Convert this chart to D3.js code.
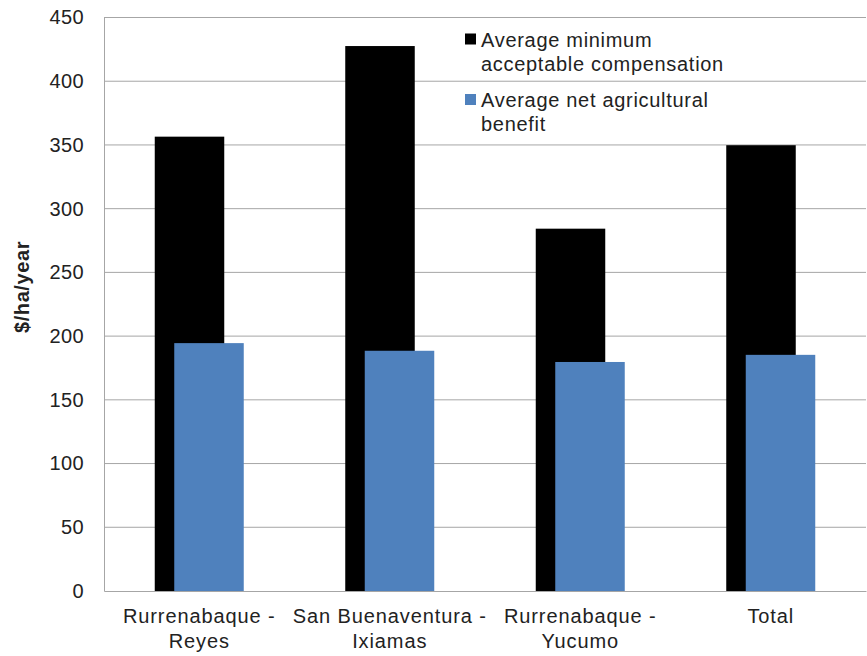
<!DOCTYPE html>
<html>
<head>
<meta charset="utf-8">
<script src="https://cdn.jsdelivr.net/npm/d3@7"></script>
<style>
  body { margin: 0; background: #fff; }
  text { font-family: "Liberation Sans", Arial, sans-serif; fill: #222; }
</style>
</head>
<body>
<div id="chart"></div>
<script>
var categories = [["Rurrenabaque -", "Reyes"], ["San Buenaventura -", "Ixiamas"], ["Rurrenabaque -", "Yucumo"], ["Total"]];
var minCompensation = [356.5, 427.6, 284.3, 349.8];
var netBenefit = [194.5, 188.5, 179.7, 185.3];
var yTicks = [0, 50, 100, 150, 200, 250, 300, 350, 400, 450];
var seriesNames = [["Average minimum", "acceptable compensation"], ["Average net agricultural", "benefit"]];
var seriesColors = ["#000000", "#4F81BD"];

var svgWidth = 867;
var svgHeight = 656;
var margin = { top: 17.5, right: 1, bottom: 65, left: 104 };
var width = svgWidth - margin.left - margin.right;
var height = svgHeight - margin.top - margin.bottom;

var svg = d3.select("#chart")
  .append("svg")
  .attr("width", svgWidth)
  .attr("height", svgHeight);

var chartGroup = svg.append("g")
  .attr("transform", `translate(${margin.left}, ${margin.top})`);

var xScale = d3.scaleBand()
  .domain(d3.range(categories.length))
  .range([0, width]);

var yScale = d3.scaleLinear()
  .domain([0, 450])
  .range([height, 0]);

// gridlines
chartGroup.append("g")
  .selectAll("line")
  .data(yTicks.slice(1))
  .enter()
  .append("line")
  .attr("x1", 0)
  .attr("x2", width)
  .attr("y1", d => yScale(d))
  .attr("y2", d => yScale(d))
  .attr("stroke", "#a6a6a6")
  .attr("stroke-width", 1);

// bars
var barWidth = 69.5;
var barShift = 19.5;
var clusterWidth = barWidth + barShift;

chartGroup.selectAll(".barMin")
  .data(minCompensation)
  .enter()
  .append("rect")
  .attr("x", (d, i) => xScale(i) + (xScale.bandwidth() - clusterWidth) / 2)
  .attr("y", d => yScale(d))
  .attr("width", barWidth)
  .attr("height", d => height - yScale(d))
  .attr("fill", seriesColors[0]);

chartGroup.selectAll(".barNet")
  .data(netBenefit)
  .enter()
  .append("rect")
  .attr("x", (d, i) => xScale(i) + (xScale.bandwidth() - clusterWidth) / 2 + barShift)
  .attr("y", d => yScale(d))
  .attr("width", barWidth)
  .attr("height", d => height - yScale(d))
  .attr("fill", seriesColors[1]);

// y axis
var leftAxis = d3.axisLeft(yScale).tickValues(yTicks).tickSize(0).tickPadding(20);
var yAxisG = chartGroup.append("g").call(leftAxis);
yAxisG.select(".domain").attr("stroke", "#a6a6a6");
yAxisG.selectAll("text")
  .style("font-size", "20px")
  .style("letter-spacing", "0.4px")
  .style("font-family", "Liberation Sans, Arial, sans-serif")
  .attr("fill", "#222");

// x axis
var xAxisG = chartGroup.append("g")
  .attr("transform", `translate(0, ${height})`)
  .call(d3.axisBottom(xScale).tickSize(0).tickFormat(""));
xAxisG.select(".domain").attr("stroke", "#a6a6a6");

var catLabels = chartGroup.append("g")
  .selectAll("text")
  .data(categories)
  .enter()
  .append("text")
  .attr("x", (d, i) => xScale(i) + xScale.bandwidth() / 2)
  .attr("y", height + 32)
  .attr("text-anchor", "middle")
  .style("font-size", "20px")
  .style("letter-spacing", "0.9px");

catLabels.selectAll("tspan")
  .data(d => d)
  .enter()
  .append("tspan")
  .attr("x", function() { return d3.select(this.parentNode).attr("x"); })
  .attr("dy", (d, i) => i === 0 ? 0 : 25)
  .text(d => d);

// y axis title
svg.append("text")
  .attr("transform", "rotate(-90)")
  .attr("x", -287)
  .attr("y", 29)
  .attr("text-anchor", "middle")
  .style("font-size", "20px")
  .style("letter-spacing", "0.6px")
  .style("font-weight", "bold")
  .text("$/ha/year");

// legend
var legend = svg.append("g");
var legendY = [33.5, 94];
seriesNames.forEach(function(lines, i) {
  legend.append("rect")
    .attr("x", 465)
    .attr("y", legendY[i])
    .attr("width", 11)
    .attr("height", 11)
    .attr("fill", seriesColors[i]);
  var t = legend.append("text")
    .attr("x", 481)
    .attr("y", legendY[i] + 13)
    .style("font-size", "20px")
    .style("letter-spacing", "0.7px");
  lines.forEach(function(line, j) {
    t.append("tspan")
      .attr("x", 481)
      .attr("dy", j === 0 ? 0 : 24)
      .text(line);
  });
});
</script>
</body>
</html>
